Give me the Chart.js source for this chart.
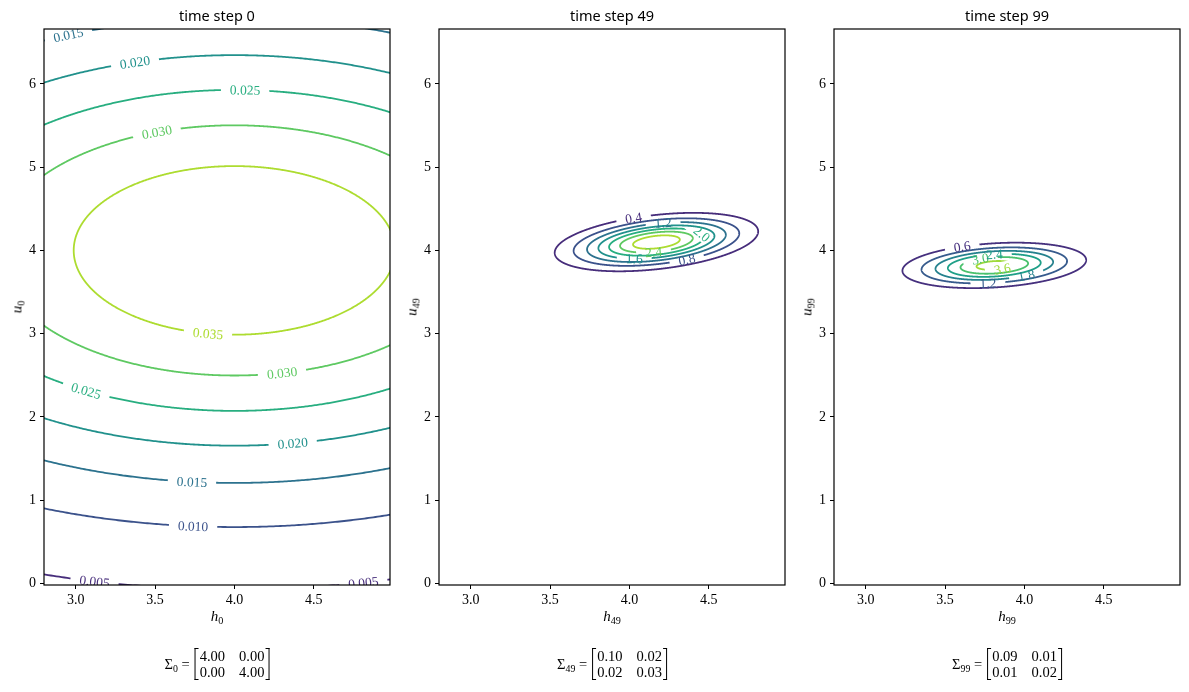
<!DOCTYPE html>
<html><head><meta charset="utf-8">
<script src="https://cdn.jsdelivr.net/npm/chart.js@4/dist/chart.umd.min.js"></script>
<style>
body{margin:0;background:#fff;width:1189px;height:692px;overflow:hidden;position:relative;font-family:"Liberation Serif",serif;color:#000}
.box{position:absolute;top:0;width:394px;height:692px}
.title{position:absolute;top:5px;font-family:"Noto Sans",sans-serif;font-size:14.5px;transform:translateX(-50%);white-space:nowrap}
.xl{position:absolute;top:608px;font-size:15px;font-style:italic;transform:translateX(-50%);white-space:nowrap}
.yl{position:absolute;top:307px;font-size:15px;font-style:italic;transform:translate(-50%,-50%) rotate(-90deg);white-space:nowrap}
sub{font-size:68%;vertical-align:-0.3em;font-style:normal;line-height:0}
.sig{position:absolute;top:648px;transform:translateX(-50%);display:flex;align-items:center;font-size:14.5px;white-space:nowrap}
.mat{display:flex;align-items:stretch;margin-left:5px}
.br{width:3px;border:1px solid #000}
.br.l{border-right:none}.br.r{border-left:none}
.cells{display:grid;grid-template-columns:auto auto;column-gap:14px;line-height:16px;padding:0 1px}
</style></head><body>
<script>
// ---- data ----
const titles = ['time step 0', 'time step 49', 'time step 99'];
const steps = [0, 49, 99];
const meanH = [4.00, 4.17, 3.81];
const meanU = [4.00, 4.10, 3.82];
const sigma0 = [[4.00, 0.00], [0.00, 4.00]];
const sigma49 = [[0.10, 0.02], [0.02, 0.03]];
const sigma99 = [[0.09, 0.01], [0.01, 0.02]];
const levels0 = [0.005, 0.010, 0.015, 0.020, 0.025, 0.030, 0.035];
const levels49 = [0.4, 0.8, 1.2, 1.6, 2.0, 2.4, 2.8];
const levels99 = [0.6, 1.2, 1.8, 2.4, 3.0, 3.6];
const colors0 = ['#472d7b', '#3b528b', '#2c728e', '#21918c', '#28ae80', '#5ec962', '#addc30'];
const colors49 = ['#472d7b', '#3b528b', '#2c728e', '#21918c', '#28ae80', '#5ec962', '#addc30'];
const colors99 = ['#46307e', '#375b8d', '#26828e', '#1fa088', '#4ac16d', '#9fda3a'];
const xTicks = [3.0, 3.5, 4.0, 4.5];
const yTicks = [0, 1, 2, 3, 4, 5, 6];
// contour labels: [level index, h, u]
const labels0 = [[2, 2.95, 6.64], [3, 3.375, 6.27], [4, 4.06, 5.94], [5, 3.51, 5.41], [6, 3.836, 3.02],
  [5, 4.30, 2.55], [4, 3.06, 2.33], [3, 4.37, 1.70], [2, 3.73, 1.23], [1, 3.75, 0.70], [0, 3.11, 0.05], [0, 4.80, 0.03]];
const labels49 = [[0, 4.02, 4.43], [2, 4.21, 4.34], [4, 4.44, 4.16], [3, 4.03, 3.92], [5, 4.15, 4.03], [1, 4.36, 3.91]];
const labels99 = [[0, 3.61, 4.03], [4, 3.72, 3.92], [3, 3.81, 3.94], [5, 3.86, 3.79], [2, 4.01, 3.71], [1, 3.77, 3.65]];

// ---- layout ----
const X_MIN = 2.8, X_MAX = 4.98, Y_MIN = -0.02, Y_MAX = 6.66;
const boxLeft = [0, 395, 790];
const LABEL_FONT = '13.5px "Liberation Serif", serif';
const PAD = 9;

const sigmas = [sigma0, sigma49, sigma99];
const levelSets = [levels0, levels49, levels99];
const colorSets = [colors0, colors49, colors99];
const labelSets = [labels0, labels49, labels99];
const decimals = [3, 1, 1];

function contour(mh, mu, S, level) {
  const det = S[0][0] * S[1][1] - S[0][1] * S[1][0];
  const peak = 1 / (2 * Math.PI * Math.sqrt(det));
  const r = Math.sqrt(2 * Math.log(peak / level));
  const a = Math.sqrt(S[0][0]), b = S[0][1] / a, d = Math.sqrt(S[1][1] - b * b);
  const pts = [];
  const N = 720;
  for (let i = 0; i <= N; i++) {
    const t = 2 * Math.PI * i / N, c = Math.cos(t), s = Math.sin(t);
    pts.push({ x: mh + a * r * c, y: mu + b * r * c + d * r * s });
  }
  return pts;
}

function labelGeom(chart) {
  const p = chart.canvas.$plot;
  const ctx = chart.ctx;
  ctx.save(); ctx.font = LABEL_FONT;
  const out = [];
  for (const [li, h, u] of labelSets[p]) {
    const meta = chart.getDatasetMeta(li);
    const px = chart.scales.x.getPixelForValue(h), py = chart.scales.y.getPixelForValue(u);
    let best = 0, bd = Infinity;
    meta.data.forEach((pt, i) => { const dd = (pt.x - px) ** 2 + (pt.y - py) ** 2; if (dd < bd) { bd = dd; best = i; } });
    const n = meta.data.length;
    const A = meta.data[Math.max(best - 3, 0)], B = meta.data[Math.min(best + 3, n - 1)];
    let ang = Math.atan2(B.y - A.y, B.x - A.x);
    if (ang > Math.PI / 2) ang -= Math.PI;
    if (ang < -Math.PI / 2) ang += Math.PI;
    const text = levelSets[p][li].toFixed(decimals[p]);
    out.push({ ds: li, x: meta.data[best].x, y: meta.data[best].y, ang, text, w: ctx.measureText(text).width, color: colorSets[p][li] });
  }
  ctx.restore();
  return out;
}

const clabelPlugin = {
  id: 'clabels',
  beforeDatasetsDraw(chart) { chart.$labels = labelGeom(chart); },
  beforeDatasetDraw(chart, args) {
    const ctx = chart.ctx, ca = chart.chartArea;
    ctx.save();
    ctx.beginPath();
    ctx.rect(ca.left, ca.top, ca.right - ca.left, ca.bottom - ca.top);
    (chart.$labels || []).filter(l => l.ds === args.index).forEach(l => {
      const hw = l.w / 2 + PAD, hh = 7, c = Math.cos(l.ang), s = Math.sin(l.ang);
      const pts = [[-hw, -hh], [hw, -hh], [hw, hh], [-hw, hh]].map(([x, y]) => [l.x + x * c - y * s, l.y + x * s + y * c]);
      ctx.moveTo(pts[0][0], pts[0][1]);
      for (let k = 1; k < 4; k++) ctx.lineTo(pts[k][0], pts[k][1]);
      ctx.closePath();
    });
    ctx.clip('evenodd');
  },
  afterDatasetDraw(chart) { chart.ctx.restore(); },
  afterDatasetsDraw(chart) {
    const ctx = chart.ctx, ca = chart.chartArea;
    ctx.save();
    ctx.beginPath(); ctx.rect(ca.left, ca.top, ca.right - ca.left, ca.bottom - ca.top); ctx.clip();
    ctx.font = LABEL_FONT; ctx.textAlign = 'center'; ctx.textBaseline = 'middle';
    (chart.$labels || []).forEach(l => {
      ctx.save(); ctx.translate(l.x, l.y); ctx.rotate(l.ang);
      ctx.fillStyle = l.color; ctx.fillText(l.text, 0, 1);
      ctx.restore();
    });
    ctx.restore();
  },
  afterDraw(chart) {
    const ctx = chart.ctx, ca = chart.chartArea;
    ctx.save(); ctx.strokeStyle = '#000'; ctx.lineWidth = 1.2;
    ctx.strokeRect(ca.left, ca.top, ca.right - ca.left, ca.bottom - ca.top);
    ctx.restore();
  }
};

function mkText(cls, html, left) {
  const d = document.createElement('div'); d.className = cls; d.innerHTML = html; d.style.left = left + 'px';
  document.body.appendChild(d); return d;
}

for (let p = 0; p < 3; p++) {
  const box = document.createElement('div'); box.className = 'box'; box.style.left = boxLeft[p] + 'px';
  const cv = document.createElement('canvas'); cv.$plot = p; box.appendChild(cv); document.body.appendChild(box);
  const axL = boxLeft[p] + 44, axR = boxLeft[p] + 390, cx = (axL + axR) / 2;
  mkText('title', titles[p], cx);
  mkText('xl', 'h<sub>' + steps[p] + '</sub>', cx);
  mkText('yl', 'u<sub>' + steps[p] + '</sub>', boxLeft[p] + 17);
  const S = sigmas[p];
  mkText('sig', '<span>&Sigma;<sub>' + steps[p] + '</sub> =</span><span class="mat"><span class="br l"></span><span class="cells">' +
    [S[0][0], S[0][1], S[1][0], S[1][1]].map(v => '<span>' + v.toFixed(2) + '</span>').join('') +
    '</span><span class="br r"></span></span>', cx);

  const datasets = levelSets[p].map((lv, i) => ({
    data: contour(meanH[p], meanU[p], S, lv),
    showLine: true, borderColor: colorSets[p][i], borderWidth: 1.8, pointRadius: 0, pointHoverRadius: 0,
    fill: false, clip: 0, tension: 0.001, borderJoinStyle: 'round', borderCapStyle: 'round'
  }));
  const tickFont = { family: '"Liberation Serif", serif', size: 14 };
  new Chart(cv, {
    type: 'scatter',
    data: { datasets },
    options: {
      responsive: true, maintainAspectRatio: false, animation: false, events: [],
      layout: { padding: { left: 0, right: 4, top: 29, bottom: 77 } },
      plugins: { legend: { display: false }, tooltip: { enabled: false } },
      scales: {
        x: {
          type: 'linear', min: X_MIN, max: X_MAX,
          afterBuildTicks: s => { s.ticks = xTicks.map(v => ({ value: v })); },
          afterFit: s => { s.height = 30; },
          ticks: { color: '#000', font: tickFont, padding: 3, maxRotation: 0, callback: v => Number(v).toFixed(1) },
          grid: { drawOnChartArea: false, drawTicks: true, tickLength: 4, color: '#000', lineWidth: 1 },
          border: { display: false }
        },
        y: {
          type: 'linear', min: Y_MIN, max: Y_MAX,
          afterBuildTicks: s => { s.ticks = yTicks.map(v => ({ value: v })); },
          afterFit: s => { s.width = 44; },
          ticks: { color: '#000', font: tickFont, padding: 4, callback: v => String(v) },
          grid: { drawOnChartArea: false, drawTicks: true, tickLength: 4, color: '#000', lineWidth: 1 },
          border: { display: false }
        }
      }
    },
    plugins: [clabelPlugin]
  });
}
</script>
</body></html>
